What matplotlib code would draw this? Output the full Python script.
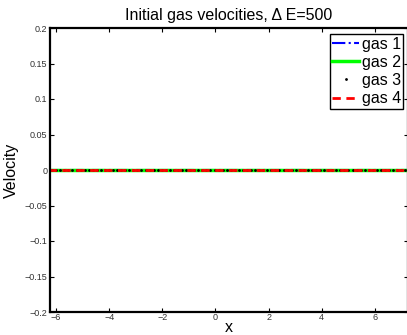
import numpy as np
import matplotlib
matplotlib.use("Agg")
import matplotlib.pyplot as plt

plt.rcParams['font.family'] = ['Liberation Sans', 'DejaVu Sans']

# data
x = np.linspace(-6.3, 7.3, 90)
gas1 = np.zeros_like(x)
gas2 = np.zeros_like(x)
gas3 = np.zeros_like(x)
gas4 = np.zeros_like(x)
xticks = [-6, -4, -2, 0, 2, 4, 6]
yticks = [-0.2, -0.15, -0.1, -0.05, 0, 0.05, 0.1, 0.15, 0.2]
ytick_labels = ['\u22120.2', '\u22120.15', '\u22120.1', '\u22120.05', '0', '0.05', '0.1', '0.15', '0.2']
xtick_labels = ['\u22126', '\u22124', '\u22122', '0', '2', '4', '6']

fig = plt.figure(figsize=(4.07, 3.35), dpi=100)
ax = fig.add_axes([50/407, 23/335, 358/407, 284/335])

ax.plot(x, gas1, color='blue', linestyle='-.', linewidth=1.5, label='gas 1')
ax.plot(x, gas2, color='#00ff00', linestyle='-', linewidth=2.5, label='gas 2')
ax.plot(x, gas3, color='black', linestyle='none', marker='.', markersize=2, label='gas 3')
ax.plot(x, gas4, color='red', linestyle='--', linewidth=2, dashes=(3, 2), label='gas 4')

ax.set_xlim(-6.23, 7.25)
ax.set_ylim(-0.2, 0.2)
ax.set_xticks(xticks)
ax.set_xticklabels(xtick_labels)
ax.set_yticks(yticks)
ax.set_yticklabels(ytick_labels)
ax.tick_params(direction='in', labelsize=6.5, length=3, width=0.8, colors='black',
               labelcolor='#333333', top=True, right=True)
ax.tick_params(axis='x', pad=1)
ax.tick_params(axis='y', pad=2)
for s in ax.spines.values():
    s.set_linewidth(1.6)

ax.set_xlabel('x', fontsize=11.5, labelpad=-2)
ax.set_ylabel('Velocity', fontsize=11.5, labelpad=4)
ax.set_title('Initial gas velocities, \u0394 E=500', fontsize=11.5, pad=6)

leg = ax.legend(loc='upper right', fontsize=11.5, frameon=True, fancybox=False,
                borderpad=0.15, labelspacing=0.2, handlelength=1.7, handletextpad=0.15,
                borderaxespad=0.3, bbox_to_anchor=(1.0, 0.995))
leg.get_frame().set_edgecolor('black')
leg.get_frame().set_linewidth(1.0)
leg.get_frame().set_alpha(1)

fig.savefig('out.png', dpi=100)
